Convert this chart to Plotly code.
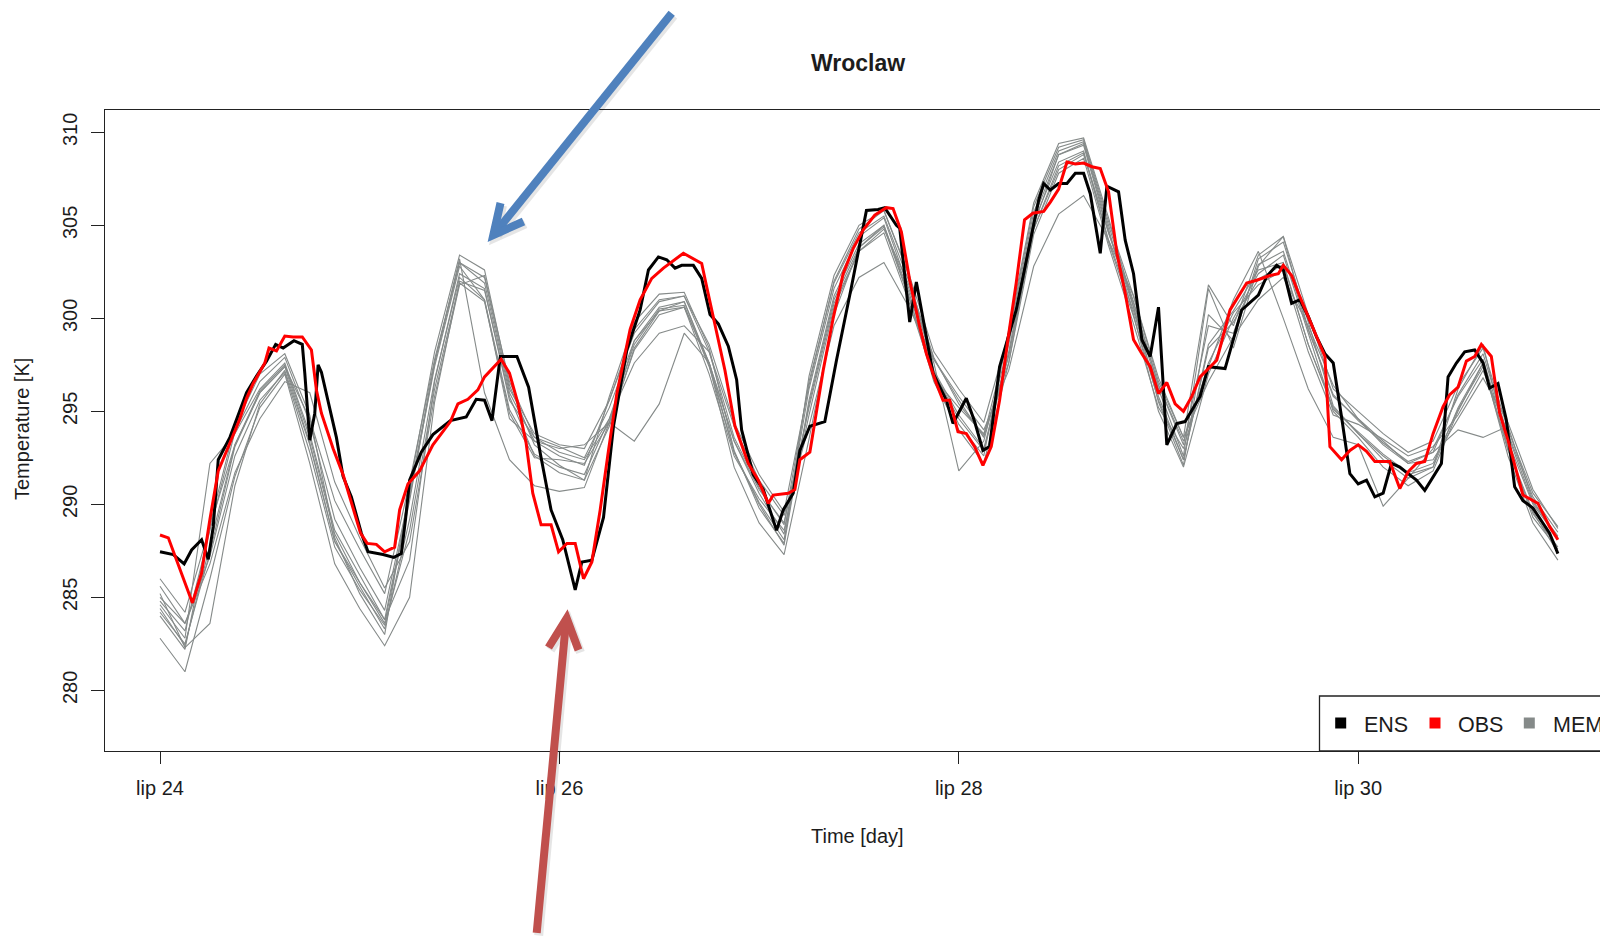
import plotly.graph_objects as go

# ---------------------------------------------------------------------------
# Data: 2 m temperature [K] at Wroclaw, hours counted from lip 24 00:00
# ---------------------------------------------------------------------------

# ensemble members, 3-hourly
member_hours = list(range(0, 169, 3))

member_01 = [284.8, 283.2, 288.6, 293.9, 296.6, 297.9, 294.4, 289.2, 286.6, 284.3,
             290.6, 297.6, 303.0, 301.9, 296.0, 293.4, 292.6, 292.1, 295.6, 299.4,
             301.0, 301.2, 298.2, 293.6, 290.9, 288.9, 296.6, 301.9, 304.6, 305.5,
             302.0, 297.9, 295.4, 293.7, 299.0, 305.7, 309.0, 309.5, 305.0, 300.9,
             296.4, 293.2, 299.6, 299.2, 302.9, 303.6, 299.4, 295.9, 294.5, 293.3,
             292.3, 292.8, 295.9, 298.1, 293.7, 290.1, 288.3]
member_02 = [284.2, 282.5, 287.4, 293.1, 296.0, 297.4, 293.3, 288.0, 285.6, 283.3,
             289.2, 296.7, 302.2, 301.0, 295.1, 292.7, 292.0, 291.6, 294.6, 298.6,
             300.5, 300.7, 297.4, 292.8, 290.1, 288.1, 295.4, 301.0, 303.8, 304.9,
             301.1, 297.1, 294.6, 292.9, 298.0, 304.8, 308.2, 308.9, 304.1, 300.1,
             295.6, 292.4, 298.4, 299.8, 302.1, 302.9, 298.6, 295.1, 293.9, 292.7,
             291.7, 292.2, 295.1, 297.4, 292.9, 289.5, 287.7]
member_03 = [284.0, 282.2, 288.9, 294.2, 297.0, 298.1, 294.8, 288.2, 285.2, 283.0,
             290.9, 298.2, 303.4, 302.6, 296.4, 293.2, 292.1, 291.3, 295.8, 299.8,
             301.3, 301.4, 298.4, 292.9, 289.8, 287.9, 296.9, 302.3, 305.0, 305.8,
             302.3, 297.2, 294.3, 292.6, 299.4, 306.2, 309.4, 309.7, 305.4, 300.6,
             295.5, 292.1, 300.2, 298.8, 303.2, 304.1, 299.8, 295.3, 293.8, 292.4,
             291.4, 292.0, 296.2, 298.6, 293.0, 289.3, 287.6]
member_04 = [285.0, 283.6, 287.2, 292.6, 295.6, 297.1, 292.8, 287.7, 285.4, 283.5,
             288.6, 296.2, 301.9, 300.9, 294.9, 292.5, 292.4, 292.2, 294.4, 298.3,
             300.2, 300.6, 297.0, 292.6, 290.3, 288.6, 294.8, 300.6, 303.6, 304.6,
             300.9, 296.8, 295.2, 293.8, 297.6, 304.5, 307.8, 308.6, 303.9, 299.7,
             295.2, 293.0, 297.6, 300.3, 301.8, 302.6, 298.2, 294.8, 294.3, 293.5,
             292.6, 293.1, 294.8, 297.2, 293.8, 290.4, 288.5]
member_05 = [282.8, 281.0, 286.0, 291.5, 295.2, 297.0, 292.2, 286.8, 284.4, 282.4,
             285.0, 295.5, 302.0, 301.5, 295.8, 292.6, 291.7, 291.3, 294.2, 298.4,
             300.4, 300.9, 297.5, 292.0, 289.0, 287.3, 293.5, 300.2, 303.8, 305.0,
             301.2, 296.6, 294.0, 292.2, 297.6, 305.0, 308.8, 309.4, 304.8, 300.2,
             295.0, 292.0, 297.0, 300.0, 302.4, 303.4, 299.2, 295.0, 293.6, 292.0,
             291.0, 291.8, 295.0, 297.6, 292.6, 289.0, 287.0]
member_06 = [285.6, 283.6, 286.8, 291.7, 294.6, 296.6, 296.0, 291.2, 288.2, 285.5,
             288.0, 295.8, 301.8, 302.3, 296.6, 293.6, 292.8, 292.4, 294.6, 297.6,
             299.2, 299.6, 298.2, 294.2, 291.3, 289.4, 294.2, 299.6, 302.2, 303.0,
             300.6, 297.8, 295.8, 294.0, 297.2, 302.8, 305.6, 306.6, 304.2, 301.2,
             296.8, 293.6, 296.6, 299.0, 301.0, 302.2, 299.6, 296.4, 294.6, 293.4,
             292.2, 292.4, 294.6, 296.8, 294.4, 290.8, 288.7]
member_07 = [284.4, 282.4, 287.8, 293.2, 296.1, 297.5, 293.6, 288.4, 285.8, 283.6,
             290.2, 297.6, 303.2, 296.0, 292.4, 291.0, 290.7, 290.9, 294.4, 298.8,
             300.6, 300.9, 297.6, 292.8, 290.0, 287.8, 295.6, 301.2, 304.0, 305.0,
             301.4, 297.2, 294.8, 293.0, 298.2, 305.2, 308.4, 309.0, 304.2, 300.4,
             295.8, 292.4, 298.6, 300.4, 302.6, 303.0, 298.6, 295.2, 293.8, 292.6,
             291.6, 292.0, 295.2, 297.6, 293.0, 289.6, 287.4]
member_08 = [284.6, 282.8, 292.2, 293.8, 296.2, 297.6, 293.8, 288.6, 286.2, 283.8,
             290.4, 297.4, 302.8, 301.0, 294.6, 293.4, 293.0, 293.2, 294.4, 293.4,
             295.4, 299.2, 297.6, 293.4, 290.6, 288.4, 296.2, 301.6, 304.4, 305.4,
             301.6, 297.6, 291.8, 293.4, 298.6, 305.4, 308.8, 309.3, 304.6, 300.6,
             296.2, 292.6, 301.6, 298.4, 302.8, 304.4, 299.4, 295.8, 294.6, 293.2,
             292.2, 292.8, 294.0, 293.6, 294.2, 290.2, 288.2]
member_09 = [285.2, 282.3, 283.6, 291.0, 295.4, 297.2, 293.2, 288.0, 285.8, 283.8,
             287.0, 296.6, 302.4, 301.6, 295.6, 293.6, 293.1, 292.5, 295.2, 298.8,
             300.4, 300.6, 297.6, 293.4, 290.8, 289.0, 295.2, 300.8, 303.6, 304.8,
             301.8, 297.8, 295.6, 293.6, 298.0, 304.8, 308.0, 308.8, 304.6, 300.8,
             296.4, 293.4, 297.4, 301.0, 303.6, 300.0, 296.2, 293.6, 293.2, 289.9,
             291.4, 293.0, 295.8, 297.8, 293.4, 290.0, 288.2]
member_10 = [286.0, 284.2, 288.8, 293.2, 296.0, 297.4, 294.6, 290.2, 287.6, 285.2,
             291.2, 297.8, 303.0, 302.2, 296.2, 293.8, 293.2, 293.0, 295.6, 299.2,
             300.9, 301.2, 298.6, 294.4, 291.6, 289.6, 296.4, 302.0, 304.8, 305.8,
             302.4, 298.2, 296.2, 294.4, 299.2, 306.0, 309.2, 309.6, 305.2, 301.2,
             296.6, 293.6, 301.8, 299.6, 303.4, 304.4, 300.2, 296.2, 295.0, 293.8,
             292.8, 293.4, 296.4, 298.4, 294.0, 290.6, 288.8]

members = [member_01, member_02, member_03, member_04, member_05,
           member_06, member_07, member_08, member_09, member_10]

# ensemble mean (ENS)
ens_hours = [0, 1.6, 2.9, 3.8, 5.0, 5.8, 6.4, 7.0, 8.4, 10.4, 11.6, 12.8, 13.9, 14.8,
             16.1, 17.1, 17.4, 18.0, 18.6, 19.0, 19.4, 20.4, 21.2, 22.0, 23.0, 24.2,
             25.0, 26.8, 28.1, 29.0, 29.5, 30.0, 31.4, 32.8, 34.9, 36.8, 38.0, 39.0,
             39.9, 40.9, 42.9, 44.3, 45.7, 47.0, 48.4, 49.9, 50.7, 51.9, 53.3, 54.5,
             56.1, 57.7, 58.7, 59.9, 60.9, 61.9, 62.7, 64.1, 65.1, 66.1, 67.1, 68.3,
             69.3, 69.9, 71.3, 72.5, 74.1, 74.9, 76.1, 76.9, 78.1, 79.9, 81.3, 83.1,
             84.9, 86.3, 87.1, 88.5, 88.9, 90.1, 90.9, 92.9, 94.5, 95.3, 96.9, 97.9,
             98.9, 99.7, 100.9, 102.9, 104.6, 105.6, 106.2, 107.0, 108.0, 109.0,
             110.0, 111.0, 111.8, 113.0, 113.8, 115.2, 116.0, 117.0, 118.0, 119.0,
             120.0, 121.0, 122.2, 123.2, 125.0, 126.0, 128.0, 130.0, 132.0, 133.0,
             134.2, 135.0, 136.0, 137.0, 138.0, 139.0, 140.0, 141.0, 142.0, 143.0,
             144.0, 145.0, 146.0, 147.0, 148.0, 149.0, 150.0, 151.0, 152.0, 153.0,
             154.0, 154.8, 155.8, 156.8, 158.0, 159.0, 159.8, 160.8, 161.8, 162.8,
             163.8, 165.0, 166.0, 167.0, 168.0]
ens_temp = [287.45, 287.3, 286.8, 287.55, 288.1, 287.05, 288.8, 292.4, 293.6, 296.0,
            296.9, 297.7, 298.6, 298.4, 298.8, 298.6, 297.05, 293.45, 294.9, 297.5,
            297.1, 295.1, 293.6, 291.5, 290.4, 288.45, 287.45, 287.3, 287.15, 287.35,
            289.15, 291.3, 292.8, 293.75, 294.5, 294.7, 295.65, 295.6, 294.5, 297.95,
            297.95, 296.3, 292.75, 289.7, 288.1, 285.4, 286.9, 287.0, 289.3, 294.2,
            298.3, 300.45, 302.6, 303.3, 303.15, 302.7, 302.85, 302.85, 302.15, 300.2,
            299.7, 298.5, 296.7, 294.0, 291.6, 290.8, 288.6, 289.7, 290.6, 292.9,
            294.2, 294.45, 297.75, 301.7, 305.8, 305.85, 305.95, 305.0, 304.85, 299.8,
            301.95, 297.05, 295.6, 294.35, 295.7, 294.45, 292.9, 293.1, 297.4, 300.45,
            304.2, 306.35, 307.25, 306.9, 307.25, 307.25, 307.8, 307.8, 306.7, 303.5,
            307.1, 306.8, 304.2, 302.4, 298.85, 297.95, 300.6, 293.2, 294.35, 294.45,
            295.8, 297.4, 297.3, 300.45, 301.25, 302.25, 302.85, 302.6, 300.8, 301.0,
            300.1, 299.0, 298.1, 297.6, 294.7, 291.65, 291.1, 291.3, 290.4, 290.6,
            292.2, 292.0, 291.65, 291.3, 290.75, 291.5, 292.2, 296.85, 297.6, 298.2,
            298.3, 297.6, 296.25, 296.5, 294.55, 290.95, 290.2, 289.8, 289.15, 288.45,
            287.35]

# observations (OBS)
obs_hours = [0, 1.0, 3.9, 5.0, 6.0, 7.0, 8.4, 9.6, 10.4, 11.2, 12.6, 13.1, 14.0, 15.0,
             16.0, 17.1, 18.2, 18.8, 19.4, 20.8, 22.0, 23.0, 24.1, 24.9, 26.0, 27.0,
             28.2, 28.8, 29.8, 31.2, 32.8, 34.9, 35.8, 37.0, 38.2, 39.0, 41.0, 42.0,
             43.0, 44.0, 44.8, 45.8, 47.0, 47.9, 48.9, 49.9, 50.9, 51.9, 52.9, 53.9,
             54.9, 56.5, 57.7, 59.1, 60.5, 62.9, 64.1, 65.1, 65.7, 66.7, 67.9, 69.1,
             70.7, 71.9, 73.1, 73.7, 75.5, 76.3, 76.9, 78.1, 79.7, 80.9, 82.1, 83.3,
             84.5, 85.9, 87.3, 88.1, 89.1, 90.1, 91.3, 92.1, 93.3, 94.1, 94.9, 95.9,
             96.9, 97.9, 98.9, 99.9, 100.9, 101.9, 102.9, 103.9, 104.9, 106.2, 107.0,
             108.0, 109.0, 110.0, 111.0, 112.0, 113.0, 114.0, 115.0, 116.0, 117.0,
             118.0, 119.0, 120.0, 121.0, 122.0, 123.0, 124.0, 125.0, 127.0, 128.6,
             130.6, 131.8, 133.4, 134.4, 135.0, 136.0, 137.0, 138.0, 139.0, 140.0,
             140.6, 142.0, 143.0, 144.0, 145.0, 146.0, 147.8, 149.0, 150.0, 151.0,
             152.0, 153.0, 154.2, 155.0, 156.0, 157.0, 158.0, 158.8, 160.0, 161.0,
             162.0, 163.0, 163.8, 165.6, 167.0, 168.0]
obs_temp = [288.35, 288.2, 284.7, 286.3, 289.2, 291.8, 293.3, 294.6, 295.7, 296.5,
            297.6, 298.4, 298.25, 299.05, 299.0, 299.0, 298.3, 296.15, 294.9, 293.0,
            291.6, 290.05, 288.45, 287.9, 287.85, 287.45, 287.7, 289.7, 291.1, 291.8,
            293.2, 294.45, 295.4, 295.65, 296.15, 296.85, 297.8, 297.05, 295.45, 293.3,
            290.6, 288.9, 288.9, 287.45, 287.9, 287.9, 286.0, 286.9, 289.7, 292.9,
            295.95, 299.4, 301.0, 302.15, 302.7, 303.5, 303.2, 302.95, 301.7, 299.7,
            297.2, 294.2, 292.2, 291.3, 290.05, 290.5, 290.6, 290.8, 292.4, 292.8,
            297.2, 300.0, 302.4, 303.75, 304.75, 305.55, 305.95, 305.9, 304.65, 302.05,
            299.55, 298.1, 296.5, 295.6, 295.6, 293.9, 293.8, 293.1, 292.1, 293.1,
            295.6, 298.85, 301.9, 305.3, 305.65, 305.75, 306.25, 306.95, 308.4, 308.3,
            308.35, 308.15, 308.05, 306.8, 303.5, 301.35, 298.85, 298.1, 297.4, 295.95,
            296.55, 295.4, 295.0, 295.8, 296.85, 297.75, 300.45, 301.9, 302.05, 302.3,
            302.4, 302.85, 302.3, 301.15, 300.1, 299.0, 297.95, 293.1, 292.4, 292.9,
            293.2, 292.85, 292.3, 292.3, 290.85, 291.75, 292.2, 292.3, 293.8, 295.25,
            295.9, 296.3, 297.7, 297.95, 298.6, 297.95, 294.9, 293.45, 291.85, 290.5,
            290.05, 288.8, 288.1]

# axis ticks
day_tick_hours = [0, 48, 96, 144]
day_tick_labels = ["lip 24", "lip 26", "lip 28", "lip 30"]
temp_ticks = [280, 285, 290, 295, 300, 305, 310]

legend_labels = ["ENS", "OBS", "MEM"]

# ---------------------------------------------------------------------------
# Styling / geometry
# ---------------------------------------------------------------------------
FIG_W, FIG_H = 1600, 937
PLOT_L, PLOT_R, PLOT_T, PLOT_B = 105, 1600, 110, 751

FONT = "Liberation Sans, Arial, sans-serif"
TEXT = "#1c1c1c"
AXIS = "#222222"
C_ENS = "#000000"
C_OBS = "#ff0000"
C_MEM = "#858a89"


def px(x):
    """horizontal page pixel -> paper coordinate"""
    return (x - PLOT_L) / (PLOT_R - PLOT_L)


def py(y):
    """vertical page pixel -> paper coordinate"""
    return (PLOT_B - y) / (PLOT_B - PLOT_T)


fig = go.Figure()

for vals in members:
    fig.add_trace(go.Scatter(x=member_hours, y=vals, mode="lines",
                             line=dict(color=C_MEM, width=1.1),
                             showlegend=False, hoverinfo="skip"))

fig.add_trace(go.Scatter(x=ens_hours, y=ens_temp, mode="lines", name="ENS",
                         line=dict(color=C_ENS, width=3), showlegend=False))
fig.add_trace(go.Scatter(x=obs_hours, y=obs_temp, mode="lines", name="OBS",
                         line=dict(color=C_OBS, width=3), showlegend=False))

shapes = []
annotations = []

# legend box (runs off the right edge of the page)
shapes.append(dict(type="rect", xref="paper", yref="paper",
                   x0=px(1319.5), x1=px(1660), y0=py(751), y1=py(696),
                   line=dict(color=AXIS, width=1.3), fillcolor="white", layer="above"))
legend_items = [(C_ENS, 1340.7, 1362.0), (C_OBS, 1435.0, 1456.0), (C_MEM, 1529.3, 1550.5)]
for (col, cx, tx), lab in zip(legend_items, legend_labels):
    shapes.append(dict(type="rect", xref="paper", yref="paper",
                       x0=px(cx - 5.5), x1=px(cx + 5.5), y0=py(723 + 5.5), y1=py(723 - 5.5),
                       line=dict(width=0), fillcolor=col, layer="above"))
    annotations.append(dict(text=lab, xref="paper", yref="paper", x=px(tx), y=py(725),
                            xanchor="left", yanchor="middle", showarrow=False,
                            font=dict(family=FONT, size=21.5, color=TEXT)))


# call-out arrows
def arrow(points_shaft, points_head, color):
    out = []
    for dx, dy, col, w in [(2.0, 2.5, "rgba(0,0,0,0.10)", 9), (0, 0, color, 8)]:
        for pts in (points_shaft, points_head):
            path = "M " + " L ".join(f"{px(x + dx):.5f},{py(y + dy):.5f}" for x, y in pts)
            out.append(dict(type="path", xref="paper", yref="paper", path=path,
                            line=dict(color=col, width=w), layer="above"))
    return out


shapes += arrow([(671.7, 13.3), (495.5, 232.5)],
                [(500.5, 203.0), (493.3, 235.0), (523.5, 221.5)], "#4f81bd")
shapes += arrow([(536.7, 933.0), (566.0, 622.0)],
                [(548.5, 647.5), (566.7, 618.3), (578.5, 650.0)], "#c0504d")

# title and axis titles
annotations.append(dict(text="<b>Wroclaw</b>", xref="paper", yref="paper",
                        x=px(858), y=py(63), xanchor="center", yanchor="middle",
                        showarrow=False, font=dict(family=FONT, size=23, color=TEXT)))
annotations.append(dict(text="Time [day]", xref="paper", yref="paper",
                        x=px(858), y=py(836), xanchor="center", yanchor="middle",
                        showarrow=False, font=dict(family=FONT, size=20, color=TEXT)))
annotations.append(dict(text="Temperature [K]", xref="paper", yref="paper",
                        x=px(22), y=py(429), xanchor="center", yanchor="middle",
                        textangle=-90, showarrow=False,
                        font=dict(family=FONT, size=20, color=TEXT)))

fig.update_layout(
    width=FIG_W, height=FIG_H,
    margin=dict(l=PLOT_L, r=FIG_W - PLOT_R, t=PLOT_T, b=FIG_H - PLOT_B, pad=0),
    paper_bgcolor="white", plot_bgcolor="white",
    showlegend=False,
    shapes=shapes, annotations=annotations,
    xaxis=dict(range=[-6.61, 173.06], tickmode="array", tickvals=day_tick_hours,
               ticktext=day_tick_labels, ticks="outside", ticklen=12, tickwidth=1,
               tickcolor=AXIS, showline=True, linecolor=AXIS, linewidth=1,
               mirror=True, showgrid=False, zeroline=False, automargin=False,
               ticklabelstandoff=7,
               tickfont=dict(family=FONT, size=20, color=TEXT)),
    yaxis=dict(range=[276.74, 311.2], tickmode="array", tickvals=temp_ticks,
               ticks="outside", ticklen=13, tickwidth=1, tickcolor=AXIS,
               showline=True, linecolor=AXIS, linewidth=1, mirror=False,
               showgrid=False, zeroline=False, automargin=False, tickangle=-90,
               ticklabelstandoff=6,
               tickfont=dict(family=FONT, size=20, color=TEXT)),
)

fig.write_html("out.html", config={"displayModeBar": False})
